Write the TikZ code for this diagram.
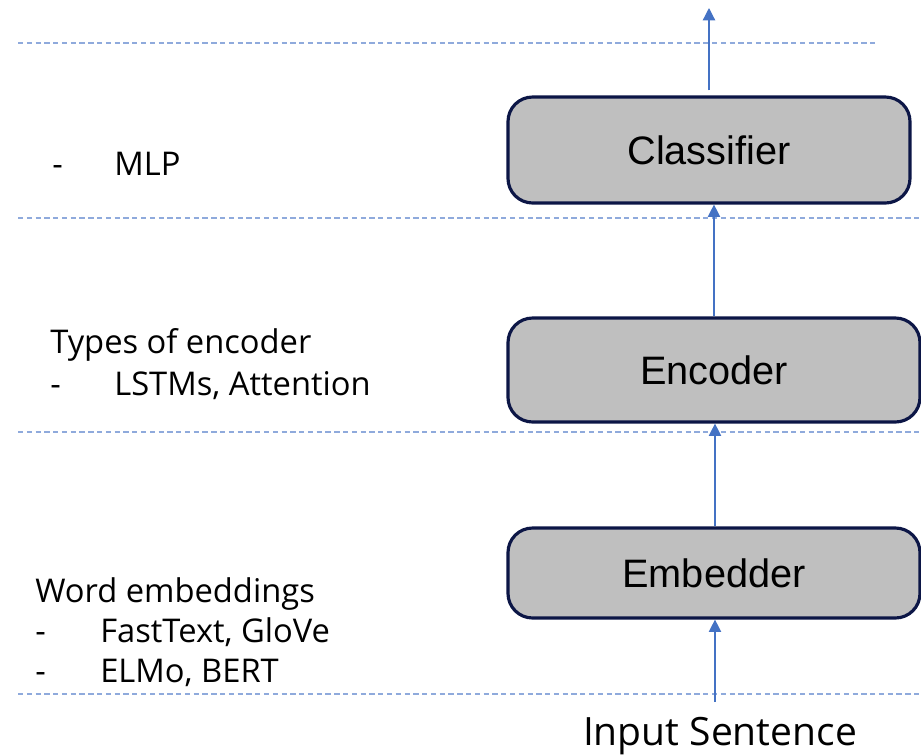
\documentclass[tikz,border=0pt]{standalone}
\usepackage{fontspec}
\setmainfont{Liberation Sans}
\newfontfamily\notefont{Open Sans}
\usetikzlibrary{arrows.meta}
\definecolor{arrowblue}{RGB}{68,114,196}
\definecolor{lineblue}{RGB}{143,170,220}
\definecolor{boxgray}{RGB}{191,191,191}
\definecolor{boxline}{RGB}{12,22,70}
\begin{document}
\begin{tikzpicture}[x=0.02cm,y=-0.02cm,>={Triangle[width=7pt,length=7pt]},
		stage/.style={draw=boxline,line width=1.8pt,fill=boxgray,rounded corners=14pt,inner sep=0pt,font=\fontsize{22.6}{27}\selectfont},
		note/.style={anchor=base west,inner sep=0pt,font=\notefont\fontsize{18.6}{22}\selectfont},
		flow/.style={->,arrowblue,line width=0.7pt},
		sep/.style={lineblue,line width=0.9pt,dash pattern=on 3pt off 2pt}]
	\useasboundingbox (0,0) rectangle (921,755);

	% layer separators
	\draw[sep] (18,43) -- (878,43);
	\draw[sep] (18,218) -- (921,218);
	\draw[sep] (18,432) -- (921,432);
	\draw[sep] (18,694) -- (921,694);

	% stages
	\node[stage,minimum width=402*0.02cm,minimum height=106*0.02cm] (classifier) at (709,150) {Classifier};
	\node[stage,minimum width=412*0.02cm,minimum height=104*0.02cm] (encoder) at (714,370) {Encoder};
	\node[stage,minimum width=412*0.02cm,minimum height=90*0.02cm] (embedder) at (714,573) {Embedder};
	\node[anchor=base,inner sep=0pt,font=\notefont\fontsize{22.2}{26}\selectfont] (input) at (720,745) {Input Sentence};

	\coordinate (output) at (709,8);
	\coordinate (inputtop) at (715,702);

	% connections
	\draw[flow,shorten <=5*0.02cm] (classifier.north) -- (output);
	\draw[flow] (encoder.north -| 714,0) -- (classifier.south -| 714,0);
	\draw[flow] (embedder.north -| 715,0) -- (encoder.south -| 715,0);
	\draw[flow] (inputtop) -- (embedder.south -| 715,0);

	% notes on the left
	\node[note] (mlp) at (52,175) {\makebox[1.24cm][l]{-}MLP};
	\node[note] (enctitle) at (50,353) {Types of encoder};
	\node[note] (encitem) at (50,395) {\makebox[1.28cm][l]{-}LSTMs, Attention};
	\node[note] (embtitle) at (35,602) {Word embeddings};
	\node[note] (embitemA) at (35,642) {\makebox[1.3cm][l]{-}FastText, GloVe};
	\node[note] (embitemB) at (35,682) {\makebox[1.3cm][l]{-}ELMo, BERT};
\end{tikzpicture}
\end{document}
